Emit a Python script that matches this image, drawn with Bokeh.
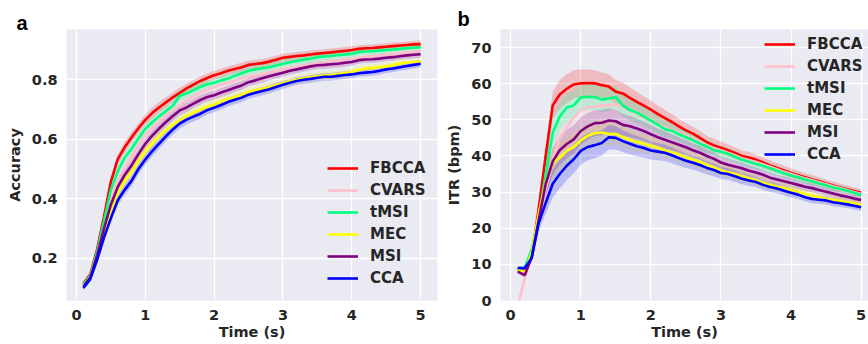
from bokeh.plotting import figure
from bokeh.layouts import row
from bokeh.models import Legend, LegendItem, Title, Range1d, FixedTicker
from bokeh.embed import file_html
from bokeh.resources import INLINE

# ---------------- data ----------------
time_s = [0.1, 0.2, 0.3, 0.4, 0.5, 0.6, 0.7, 0.8, 0.9, 1.0,
          1.1, 1.2, 1.3, 1.4, 1.5, 1.6, 1.7, 1.8, 1.9, 2.0,
          2.1, 2.2, 2.3, 2.4, 2.5, 2.6, 2.7, 2.8, 2.9, 3.0,
          3.1, 3.2, 3.3, 3.4, 3.5, 3.6, 3.7, 3.8, 3.9, 4.0,
          4.1, 4.2, 4.3, 4.4, 4.5, 4.6, 4.7, 4.8, 4.9, 5.0]

methods = ["FBCCA", "CVARS", "tMSI", "MEC", "MSI", "CCA"]
colors = ["#ff0000", "#ffc0cb", "#00ff7f", "#ffff00", "#800080", "#0000ff"]

acc_fbcca = [.115, .145, .230, .340, .458, .533, .573, .606, .637, .665,
             .688, .707, .724, .741, .756, .771, .784, .796, .806, .815,
             .822, .830, .836, .842, .850, .853, .856, .861, .867, .874,
             .877, .880, .882, .885, .888, .890, .892, .895, .897, .900,
             .904, .906, .907, .909, .911, .913, .915, .917, .919, .920]
acc_cvars = [.110, .140, .215, .310, .400, .462, .503, .542, .580, .615,
             .640, .660, .680, .698, .715, .730, .744, .756, .766, .775,
             .783, .790, .797, .804, .810, .815, .820, .825, .830, .835,
             .840, .844, .848, .852, .856, .859, .862, .865, .868, .871,
             .874, .877, .880, .882, .885, .887, .889, .892, .894, .896]
acc_tmsi = [.112, .140, .222, .325, .430, .493, .538, .568, .603, .635,
            .657, .677, .695, .713, .746, .754, .765, .776, .785, .790,
            .798, .804, .814, .822, .830, .835, .839, .842, .848, .854,
            .859, .863, .867, .871, .876, .878, .880, .883, .885, .887,
            .893, .895, .896, .898, .900, .902, .904, .906, .908, .909]
acc_mec = [.105, .135, .205, .290, .362, .420, .460, .490, .527, .560,
           .586, .610, .630, .648, .664, .678, .690, .700, .710, .717,
           .727, .736, .742, .750, .760, .765, .770, .775, .782, .788,
           .795, .800, .805, .808, .812, .814, .816, .819, .822, .826,
           .834, .838, .840, .842, .845, .850, .855, .858, .860, .862]
acc_msi = [.105, .135, .210, .300, .380, .440, .480, .512, .550, .585,
           .612, .636, .658, .678, .697, .707, .720, .732, .742, .748,
           .757, .765, .773, .781, .792, .798, .805, .812, .818, .824,
           .830, .835, .840, .845, .849, .850, .852, .854, .857, .860,
           .866, .868, .869, .871, .874, .876, .879, .882, .884, .886]
acc_cca = [.100, .130, .195, .270, .335, .395, .430, .460, .500, .532,
           .560, .585, .610, .633, .653, .666, .676, .686, .698, .706,
           .715, .725, .733, .740, .750, .756, .762, .768, .776, .783,
           .790, .796, .800, .803, .807, .810, .810, .813, .816, .818,
           .822, .824, .826, .830, .835, .838, .842, .846, .850, .854]
acc_err = [.008, .010, .012, .014, .016, .017, .018, .018, .018, .018,
           .018, .018, .017, .017, .017, .016, .016, .016, .015, .015,
           .015, .015, .015, .015, .014, .014, .014, .014, .014, .014,
           .013, .013, .013, .013, .013, .013, .013, .013, .013, .013,
           .012, .012, .012, .012, .012, .012, .012, .012, .012, .012]

itr_fbcca = [8.5, 8.5, 12.0, 25.5, 40.0, 54.0, 57.0, 58.6, 59.8, 60.1,
             60.2, 60.1, 59.6, 59.2, 57.8, 57.3, 56.1, 55.0, 53.9, 52.8,
             51.6, 50.5, 49.4, 48.2, 47.1, 46.2, 45.0, 43.8, 42.9, 42.3,
             41.6, 40.8, 40.0, 39.6, 39.0, 38.2, 37.4, 36.7, 36.0, 35.3,
             34.7, 34.1, 33.5, 33.0, 32.4, 31.8, 31.3, 30.8, 30.3, 29.8]
itr_cvars = [-1.5, 6.0, 13.0, 21.0, 31.0, 39.0, 45.0, 48.0, 50.6, 52.6,
             53.5, 53.6, 54.0, 53.9, 54.3, 53.6, 52.5, 51.6, 50.6, 49.6,
             48.8, 47.8, 47.2, 46.3, 45.6, 44.8, 43.9, 43.0, 42.2, 41.6,
             40.9, 40.2, 39.4, 38.8, 38.3, 37.7, 37.0, 36.3, 35.6, 35.0,
             34.4, 33.8, 33.3, 32.7, 32.2, 31.6, 31.1, 30.6, 30.0, 29.5]
itr_tmsi = [8.5, 9.1, 14.1, 23.0, 35.0, 46.4, 50.9, 53.4, 54.0, 56.2,
            56.4, 56.3, 55.6, 55.9, 56.3, 54.0, 52.7, 52.0, 50.9, 49.8,
            48.7, 47.4, 47.0, 46.0, 45.2, 44.4, 43.4, 42.6, 41.6, 41.2,
            40.6, 39.8, 39.0, 38.4, 37.8, 37.3, 36.6, 35.9, 35.2, 34.6,
            34.1, 33.5, 33.0, 32.4, 31.9, 31.3, 30.9, 30.4, 29.8, 29.2]
itr_mec = [8.5, 8.0, 13.2, 24.0, 32.7, 38.2, 39.5, 41.4, 42.5, 44.3,
           45.6, 46.3, 46.5, 46.1, 46.1, 45.2, 44.5, 43.9, 43.4, 42.8,
           42.3, 41.5, 41.0, 40.4, 39.6, 39.0, 38.4, 37.5, 36.8, 36.0,
           35.5, 35.0, 34.4, 33.8, 33.3, 32.6, 32.0, 31.5, 31.1, 30.6,
           30.1, 29.5, 29.0, 28.6, 28.1, 27.8, 27.6, 27.2, 26.9, 26.5]
itr_msi = [8.0, 7.0, 12.0, 22.3, 32.3, 38.5, 41.6, 43.3, 44.6, 46.9,
           48.2, 49.1, 49.2, 49.8, 49.6, 48.6, 48.2, 47.6, 46.9, 46.0,
           45.2, 44.5, 43.8, 43.1, 42.4, 41.6, 40.9, 40.0, 39.2, 38.2,
           37.6, 37.1, 36.6, 35.9, 35.4, 34.8, 34.0, 33.5, 33.0, 32.5,
           32.0, 31.5, 31.1, 30.6, 30.1, 29.6, 29.1, 28.7, 28.2, 27.8]
itr_cca = [9.0, 8.9, 11.8, 21.4, 27.0, 32.3, 35.0, 37.3, 39.1, 41.4,
           42.5, 43.0, 43.6, 45.2, 45.0, 44.1, 43.4, 42.7, 42.2, 41.5,
           41.2, 40.9, 40.2, 39.4, 38.7, 38.1, 37.5, 36.7, 36.1, 35.3,
           35.0, 34.4, 33.7, 33.2, 32.8, 32.0, 31.4, 31.0, 30.4, 29.8,
           29.3, 28.6, 28.1, 27.9, 27.7, 27.2, 26.9, 26.6, 26.2, 25.8]
itr_err = [0.5, 0.7, 1.2, 2.2, 3.0, 3.8, 4.0, 4.0, 3.9, 3.8,
           3.7, 3.6, 3.5, 3.4, 3.2, 3.0, 2.9, 2.8, 2.6, 2.5,
           2.4, 2.3, 2.2, 2.1, 2.0, 1.9, 1.9, 1.8, 1.8, 1.7,
           1.6, 1.6, 1.5, 1.5, 1.4, 1.4, 1.4, 1.3, 1.3, 1.3,
           1.2, 1.2, 1.2, 1.1, 1.1, 1.1, 1.1, 1.0, 1.0, 1.0]

acc_series = [acc_fbcca, acc_cvars, acc_tmsi, acc_mec, acc_msi, acc_cca]
itr_series = [itr_fbcca, itr_cvars, itr_tmsi, itr_mec, itr_msi, itr_cca]

x_ticks = [0, 1, 2, 3, 4, 5]
acc_ticks = [0.2, 0.4, 0.6, 0.8]
itr_ticks = [0, 10, 20, 30, 40, 50, 60, 70]

TXT = "#262626"
BG = "#eaeaf2"
FONT = "DejaVu Sans"


def style(p, xlabel, ylabel, yticks):
    p.background_fill_color = BG
    p.border_fill_color = "white"
    p.outline_line_color = None
    p.xgrid.grid_line_color = "white"
    p.ygrid.grid_line_color = "white"
    p.xgrid.grid_line_width = 1.3
    p.ygrid.grid_line_width = 1.3
    p.xaxis.ticker = FixedTicker(ticks=x_ticks)
    p.yaxis.ticker = FixedTicker(ticks=yticks)
    for ax in (p.xaxis[0], p.yaxis[0]):
        ax.axis_line_color = None
        ax.major_tick_line_color = None
        ax.minor_tick_line_color = None
        ax.major_tick_out = 0
        ax.major_tick_in = 0
        ax.minor_tick_out = 0
        ax.major_label_text_font = FONT
        ax.major_label_text_font_style = "bold"
        ax.major_label_text_font_size = "14.5px"
        ax.major_label_text_color = TXT
        ax.axis_label_text_font = FONT
        ax.axis_label_text_font_style = "bold"
        ax.axis_label_text_font_size = "14.5px"
        ax.axis_label_text_color = TXT
    p.xaxis.axis_label = xlabel
    p.yaxis.axis_label = ylabel
    p.xaxis.major_label_standoff = 9
    p.xaxis.axis_label_standoff = 1
    p.yaxis.major_label_standoff = 9
    p.yaxis.axis_label_standoff = 6


def draw(p, series, err, legend_loc):
    items = []
    for name, col, ys in zip(methods, colors, series):
        lo = [y - e for y, e in zip(ys, err)]
        hi = [y + e for y, e in zip(ys, err)]
        p.varea(x=time_s, y1=lo, y2=hi, fill_color=col, fill_alpha=0.2)
    for name, col, ys in zip(methods, colors, series):
        r = p.line(x=time_s, y=ys, line_color=col, line_width=2.6)
        items.append(LegendItem(label=name, renderers=[r]))
    leg = Legend(items=items, location=legend_loc)
    leg.label_text_font = FONT
    leg.label_text_font_style = "bold"
    leg.label_text_font_size = "15px"
    leg.label_text_color = TXT
    leg.glyph_width = 31
    leg.glyph_height = 22
    leg.label_height = 22
    leg.spacing = 0
    leg.padding = 0
    leg.margin = 0
    leg.label_standoff = 12
    leg.background_fill_alpha = 0
    leg.border_line_alpha = 0
    p.add_layout(leg)


def panel_title(p, letter, offset, standoff):
    t = Title(text=letter, align="left", offset=offset, standoff=standoff,
              text_font="Liberation Sans", text_font_style="bold",
              text_font_size="20px", text_color="black")
    p.add_layout(t, "above")


pa = figure(width=440, height=342, output_backend="svg", toolbar_location=None,
            x_range=Range1d(-0.145, 5.245), y_range=Range1d(0.058, 0.969),
            min_border_left=66, min_border_right=3, min_border_top=29, min_border_bottom=42)
pa.title = None
style(pa, "Time (s)", "Accuracy", acc_ticks)
draw(pa, acc_series, acc_err, (261, 11))
panel_title(pa, "a", -50, -8)

pb = figure(width=428, height=342, output_backend="svg", toolbar_location=None,
            x_range=Range1d(-0.145, 5.105), y_range=Range1d(0, 75),
            min_border_left=60, min_border_right=0, min_border_top=26, min_border_bottom=41)
pb.title = None
style(pb, "Time (s)", "ITR (bpm)", itr_ticks)
draw(pb, itr_series, itr_err, (264, 135))
panel_title(pb, "b", -43, 0)

layout = row(pa, pb)
open("out.html", "w").write(file_html(layout, INLINE))
